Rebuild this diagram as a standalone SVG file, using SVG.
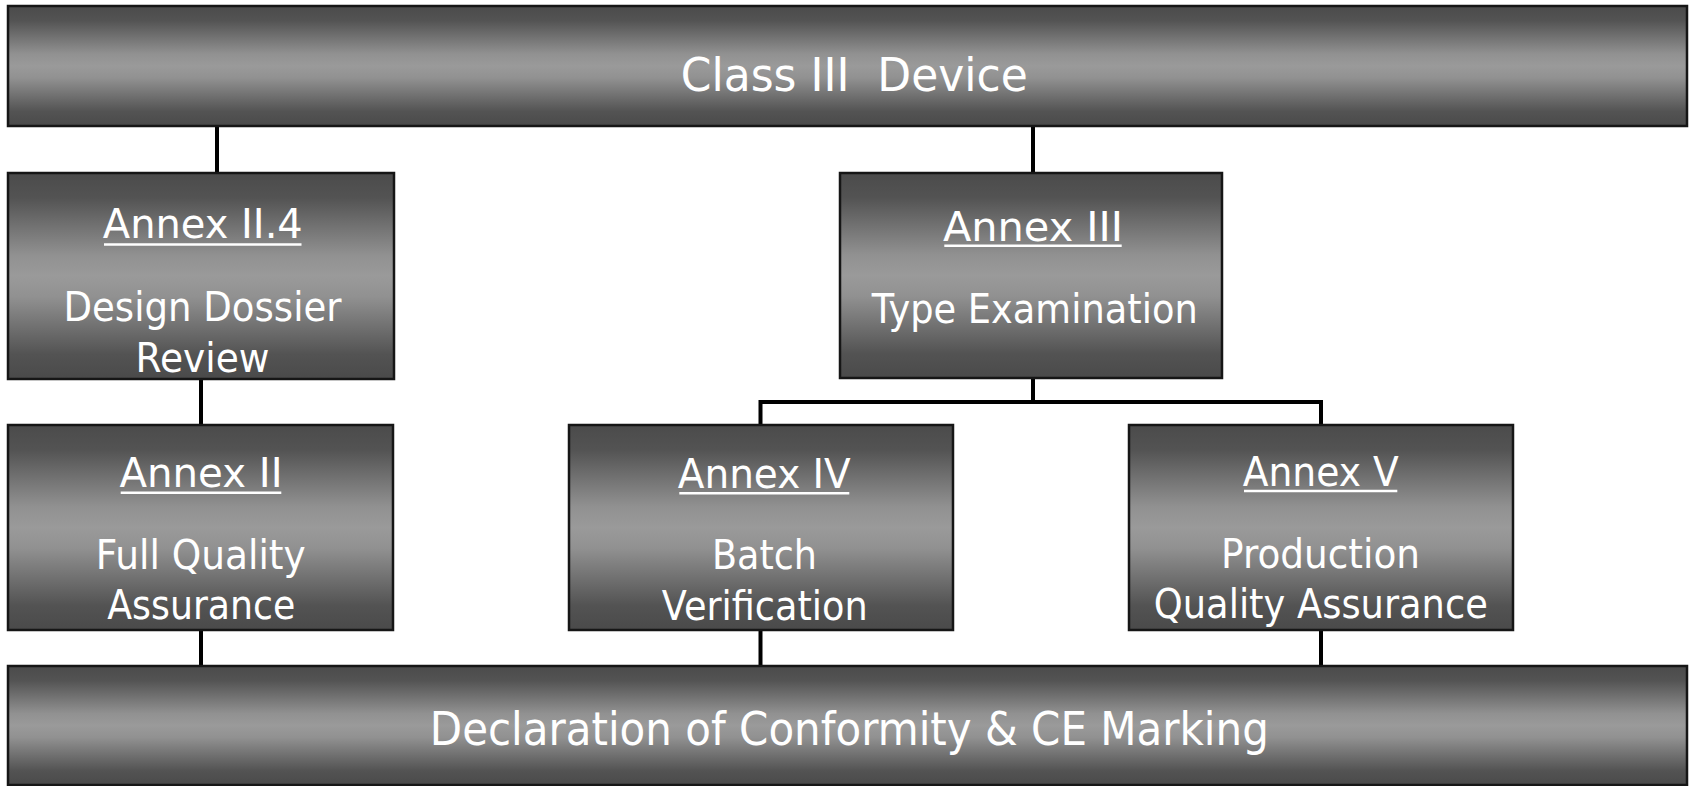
<svg xmlns="http://www.w3.org/2000/svg" width="1689" height="786" viewBox="0 0 1689 786">
  <defs>
    <!-- vertical chrome-style shading: dark edges, light middle -->
    <linearGradient id="chrome" x1="0" y1="0" x2="0" y2="1">
      <stop offset="0" stop-color="#4b4b4b"/>
      <stop offset="0.12" stop-color="#535353"/>
      <stop offset="0.4" stop-color="#919191"/>
      <stop offset="0.5" stop-color="#9a9a9a"/>
      <stop offset="0.6" stop-color="#919191"/>
      <stop offset="0.88" stop-color="#535353"/>
      <stop offset="1" stop-color="#4a4a4a"/>
    </linearGradient>
  </defs>
  <style>
    .box { fill: url(#chrome); stroke: #161616; stroke-width: 2.5; }
    .lbl { font-family: "DejaVu Sans", "Liberation Sans", sans-serif; fill: #ffffff; text-anchor: middle; white-space: pre; }
    .big { font-size: 46px; }
    .sm { font-size: 40px; }
    .ul { stroke: #ffffff; stroke-width: 2.5; }
    .wire { stroke: #000000; stroke-width: 4; fill: none; }
  </style>
  <rect width="1689" height="786" fill="#ffffff"/>

  <!-- connectors -->
  <g id="connectors">
    <line class="wire" x1="217" y1="126" x2="217" y2="173"/>
    <line class="wire" x1="1033" y1="126" x2="1033" y2="173"/>
    <line class="wire" x1="201" y1="379" x2="201" y2="425"/>
    <line class="wire" x1="1033" y1="378" x2="1033" y2="402"/>
    <polyline class="wire" points="760.5,425 760.5,402 1321,402 1321,425"/>
    <line class="wire" x1="201" y1="630" x2="201" y2="666"/>
    <line class="wire" x1="760.5" y1="630" x2="760.5" y2="666"/>
    <line class="wire" x1="1321" y1="630" x2="1321" y2="666"/>
  </g>

  <g id="class3-device">
    <rect class="box" x="8" y="6" width="1679" height="120"/>
    <text class="lbl big" x="854.3" y="91" textLength="347" lengthAdjust="spacingAndGlyphs">Class III  Device</text>
  </g>

  <g id="annex-ii4">
    <rect class="box" x="8" y="173" width="386" height="206"/>
    <text class="lbl sm" x="202.8" y="238.3" textLength="200" lengthAdjust="spacingAndGlyphs">Annex II.4</text>
    <line class="ul" x1="104" y1="244.5" x2="301.5" y2="244.5"/>
    <text class="lbl sm" x="202.5" y="320.7" textLength="278" lengthAdjust="spacingAndGlyphs">Design Dossier</text>
    <text class="lbl sm" x="202.5" y="371.7" textLength="134" lengthAdjust="spacingAndGlyphs">Review</text>
  </g>

  <g id="annex-iii">
    <rect class="box" x="840" y="173" width="382" height="205"/>
    <text class="lbl sm" x="1033" y="241" textLength="180" lengthAdjust="spacingAndGlyphs">Annex III</text>
    <line class="ul" x1="944.3" y1="245.7" x2="1121.7" y2="245.7"/>
    <text class="lbl sm" x="1034.7" y="322.7" textLength="326" lengthAdjust="spacingAndGlyphs">Type Examination</text>
  </g>

  <g id="annex-ii">
    <rect class="box" x="8" y="425" width="385" height="205"/>
    <text class="lbl sm" x="201" y="487.3" textLength="163" lengthAdjust="spacingAndGlyphs">Annex II</text>
    <line class="ul" x1="120.7" y1="492.7" x2="281.3" y2="492.7"/>
    <text class="lbl sm" x="200.7" y="569.3" textLength="210" lengthAdjust="spacingAndGlyphs">Full Quality</text>
    <text class="lbl sm" x="201.3" y="619" textLength="188" lengthAdjust="spacingAndGlyphs">Assurance</text>
  </g>

  <g id="annex-iv">
    <rect class="box" x="569" y="425" width="384" height="205"/>
    <text class="lbl sm" x="764.3" y="488.3" textLength="173" lengthAdjust="spacingAndGlyphs">Annex IV</text>
    <line class="ul" x1="679.3" y1="493.3" x2="849.3" y2="493.3"/>
    <text class="lbl sm" x="764.5" y="569.3" textLength="105" lengthAdjust="spacingAndGlyphs">Batch</text>
    <text class="lbl sm" x="764.7" y="620" textLength="206" lengthAdjust="spacingAndGlyphs">Verification</text>
  </g>

  <g id="annex-v">
    <rect class="box" x="1129" y="425" width="384" height="205"/>
    <text class="lbl sm" x="1320.7" y="485.7" textLength="156" lengthAdjust="spacingAndGlyphs">Annex V</text>
    <line class="ul" x1="1244" y1="491" x2="1397.3" y2="491"/>
    <text class="lbl sm" x="1320.5" y="568.3" textLength="199" lengthAdjust="spacingAndGlyphs">Production</text>
    <text class="lbl sm" x="1320.8" y="618.3" textLength="334" lengthAdjust="spacingAndGlyphs">Quality Assurance</text>
  </g>

  <g id="declaration-ce">
    <rect class="box" x="8" y="666" width="1679" height="119"/>
    <text class="lbl big" x="849.3" y="745" textLength="839" lengthAdjust="spacingAndGlyphs">Declaration of Conformity &amp; CE Marking</text>
  </g>
</svg>
